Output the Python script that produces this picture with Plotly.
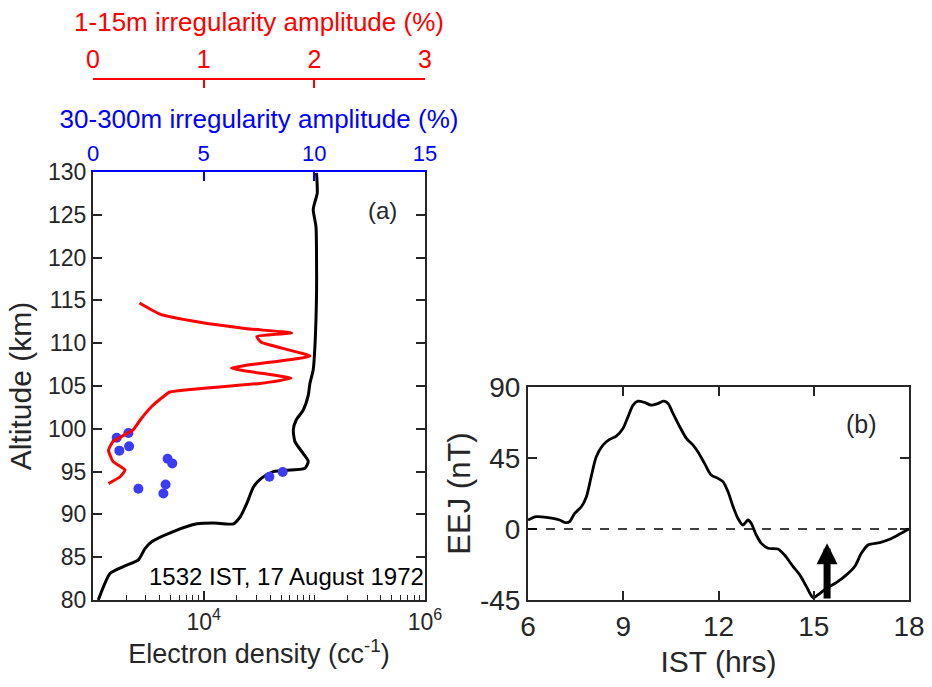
import plotly.graph_objects as go

# ---- Panel (a): rocket profile, 17 August 1972 ----
# Electron density profile (cc^-1) versus altitude (km)
ne_alt = [80.0, 83.1, 83.9, 84.7, 86.0, 86.8, 88.0, 88.9, 89.0, 88.9, 89.7, 91.3,
          93.2, 94.2, 95.0, 95.4, 96.2, 97.1, 98.5, 99.9, 101.0, 102.2, 103.9,
          105.3, 106.9, 109.6, 115.8, 119.7, 123.6, 125.6, 126.5, 127.5, 129.9]
ne_density = [1117, 1426, 1879, 2570, 2951, 3388, 5309, 8710, 12220, 18620, 21380,
              24550, 28180, 33110, 42660, 82220, 88100, 79430, 66830, 64570, 68390,
              79430, 88100, 91200, 97720, 101200, 104700, 104700, 103500, 97720,
              101200, 106200, 104700]

# 1-15 m irregularity amplitude (%) versus altitude (km)
small_alt = [114.7, 113.4, 112.5, 111.7, 111.2, 110.8, 110.1, 108.5, 107.1, 105.9,
             105.3, 104.3, 103.6, 102.6, 101.0, 99.9, 98.5, 97.5, 96.2, 95.2, 94.4, 93.6]
small_amp = [0.42, 0.605, 0.94, 1.39, 1.795, 1.48, 1.52, 1.96, 1.25, 1.79,
             1.51, 0.695, 0.62, 0.53, 0.425, 0.365, 0.18, 0.14, 0.18, 0.29, 0.245, 0.14]

# 30-300 m irregularity amplitude (%) versus altitude (km)
large_alt = [98.96, 99.5, 97.45, 97.95, 96.5, 95.96, 93.0, 93.5, 92.45, 94.4, 94.95]
large_amp = [1.07, 1.6, 1.19, 1.63, 3.37, 3.58, 2.05, 3.28, 3.18, 7.97, 8.57]

# ---- Panel (b): EEJ strength through the day ----
ist_hours = [6.0, 6.26, 6.79, 7.0, 7.19, 7.31, 7.47, 7.68, 7.84, 7.99, 8.15, 8.36,
             8.57, 8.78, 8.99, 9.15, 9.31, 9.46, 9.67, 9.88, 10.09, 10.28, 10.41,
             10.57, 10.78, 10.99, 11.2, 11.35, 11.56, 11.77, 11.98, 12.14, 12.30,
             12.46, 12.61, 12.77, 12.93, 13.03, 13.19, 13.35, 13.56, 13.87, 14.08,
             14.35, 14.56, 14.77, 14.98, 15.13, 15.40, 15.71, 16.03, 16.29, 16.50,
             16.71, 17.08, 17.39, 17.71, 18.0]
eej_nT = [5.7, 7.8, 6.75, 5.7, 4.0, 4.6, 9.9, 14.1, 20.5, 33.1, 45.8, 53.2,
          56.8, 58.9, 63.7, 71.1, 78.5, 81.0, 80.2, 78.5, 79.5, 81.0, 79.5,
          73.2, 64.8, 57.4, 53.2, 48.9, 41.6, 34.2, 32.1, 30.0, 23.6,
          14.1, 6.75, 2.5, 5.7, 3.6, -3.8, -9.1, -12.2, -12.7, -16.5,
          -23.8, -29.1, -36.5, -43.5, -41.8, -37.6, -34.0, -29.1, -23.8, -15.4,
          -10.1, -8.6, -6.5, -3.2, 0.0]

launch_hour = 15.42          # 1532 IST
arrow_span = [-45, -9]

density_ticks = [1e4, 1e6]
density_ticktext = ["10<sup>4</sup>", "10<sup>6</sup>"]
density_minor = [m * 10 ** e for e in (3, 4, 5) for m in range(2, 10)] + [1e5]
eej_ticks = [-45, 0, 45, 90]
eej_ticktext = ["-45", "0", "45", "90"]

W, H = 932, 687
FONT = "Liberation Sans, Arial, sans-serif"
INK = "#262626"
RED = "#ff0000"
BLUE = "#0000ff"
DOT = "#3c3cf5"


def px_x(p):
    return p / W


def px_y(p):
    return 1 - p / H


fig = go.Figure()

fig.add_trace(go.Scatter(x=ne_density, y=ne_alt, mode="lines",
                         line=dict(color="black", width=3, shape="spline", smoothing=0.6),
                         xaxis="x", yaxis="y", showlegend=False))
fig.add_trace(go.Scatter(x=small_amp, y=small_alt, mode="lines",
                         line=dict(color=RED, width=3, shape="spline", smoothing=0.4),
                         xaxis="x3", yaxis="y", showlegend=False))
fig.add_trace(go.Scatter(x=large_amp, y=large_alt, mode="markers",
                         marker=dict(color=DOT, size=10),
                         xaxis="x2", yaxis="y", showlegend=False))
fig.add_trace(go.Scatter(x=ist_hours, y=eej_nT, mode="lines",
                         line=dict(color="black", width=2.8, shape="spline", smoothing=0.8),
                         xaxis="x4", yaxis="y2", showlegend=False))
# single-point carrier so the minor-tick density axis gets drawn (draws no mark)
fig.add_trace(go.Scatter(x=ne_density[:1], y=ne_alt[:1], mode="lines",
                         line=dict(color="rgba(0,0,0,0)"), hoverinfo="skip",
                         xaxis="x5", yaxis="y", showlegend=False))

common = dict(showgrid=False, zeroline=False, showline=True, linewidth=2,
              ticks="inside", tickwidth=1.5, automargin=False)

a_dom_x = [px_x(93), px_x(425)]
a_dom_y = [px_y(600), px_y(172)]
b_dom_x = [px_x(528), px_x(909)]
b_dom_y = [px_y(600), px_y(387)]

fig.update_layout(
    width=W, height=H,
    margin=dict(l=0, r=0, t=0, b=0, autoexpand=False),
    paper_bgcolor="white", plot_bgcolor="white",
    font=dict(family=FONT, color=INK),
    xaxis=dict(**common, domain=a_dom_x, anchor="y", type="log", range=[3, 6],
               linecolor=INK, tickcolor=INK, ticklen=9,
               tickmode="array", tickvals=density_ticks, ticktext=density_ticktext,
               tickfont=dict(size=23, color=INK),
               title=dict(text="Electron density (cc<sup>-1</sup>)",
                          font=dict(size=27, color=INK), standoff=6)),
    xaxis5=dict(overlaying="x", anchor="y", side="bottom", type="log", range=[3, 6],
                showgrid=False, zeroline=False, showline=False, automargin=False,
                tickmode="array", tickvals=density_minor, showticklabels=False,
                ticks="inside", ticklen=5, tickwidth=1.3, tickcolor=INK),
    yaxis=dict(**common, domain=a_dom_y, anchor="x", range=[80, 130], dtick=5,
               mirror="ticks", linecolor=INK, tickcolor=INK, ticklen=9,
               tickfont=dict(size=23, color=INK),
               title=dict(text="Altitude (km)", font=dict(size=30, color=INK), standoff=8)),
    xaxis2=dict(**common, overlaying="x", side="top", anchor="y", range=[0, 15], dtick=5,
                linecolor=BLUE, tickcolor=BLUE, ticklen=9,
                tickfont=dict(size=22, color=BLUE),
                title=dict(text="30-300m irregularity amplitude (%)",
                           font=dict(size=26, color=BLUE), standoff=5)),
    xaxis3=dict(**common, overlaying="x", side="top", anchor="free", position=px_y(79),
                range=[0, 3], dtick=1,
                linecolor=RED, tickcolor=RED, ticklen=8,
                tickfont=dict(size=25, color=RED),
                title=dict(text="1-15m irregularity amplitude (%)",
                           font=dict(size=26, color=RED), standoff=5)),
    xaxis4=dict(**common, domain=b_dom_x, anchor="y2", range=[6, 18], dtick=3,
                mirror="ticks", linecolor=INK, tickcolor=INK, ticklen=9,
                tickfont=dict(size=28, color=INK),
                title=dict(text="IST (hrs)", font=dict(size=30, color=INK), standoff=10)),
    yaxis2=dict(**common, domain=b_dom_y, anchor="x4", range=[-45, 90],
                tickmode="array", tickvals=eej_ticks, ticktext=eej_ticktext,
                mirror="ticks", linecolor=INK, tickcolor=INK, ticklen=9,
                tickfont=dict(size=28, color=INK),
                title=dict(text="EEJ (nT)", font=dict(size=31, color=INK), standoff=0)),
)

# zero line of the EEJ panel
fig.add_shape(type="line", xref="x4 domain", yref="y2", x0=0, x1=1, y0=0, y1=0,
              line=dict(color="black", width=1.5, dash="dash"))

# launch time marker
fig.add_annotation(x=launch_hour, y=arrow_span[1], ax=launch_hour, ay=arrow_span[0],
                   xref="x4", yref="y2", axref="x4", ayref="y2",
                   showarrow=True, arrowhead=2, arrowsize=0.6, arrowwidth=7,
                   arrowcolor="black", text="")

label_kw = dict(xref="paper", yref="paper", showarrow=False,
                xanchor="center", yanchor="middle")
fig.add_annotation(x=px_x(382), y=px_y(210), text="(a)",
                   font=dict(size=24, color=INK), **label_kw)
fig.add_annotation(x=px_x(861), y=px_y(424), text="(b)",
                   font=dict(size=25, color=INK), **label_kw)
fig.add_annotation(x=px_x(286), y=px_y(576), text="1532 IST, 17 August 1972",
                   font=dict(size=24, color="black"), **label_kw)

fig.write_html("out.html")
